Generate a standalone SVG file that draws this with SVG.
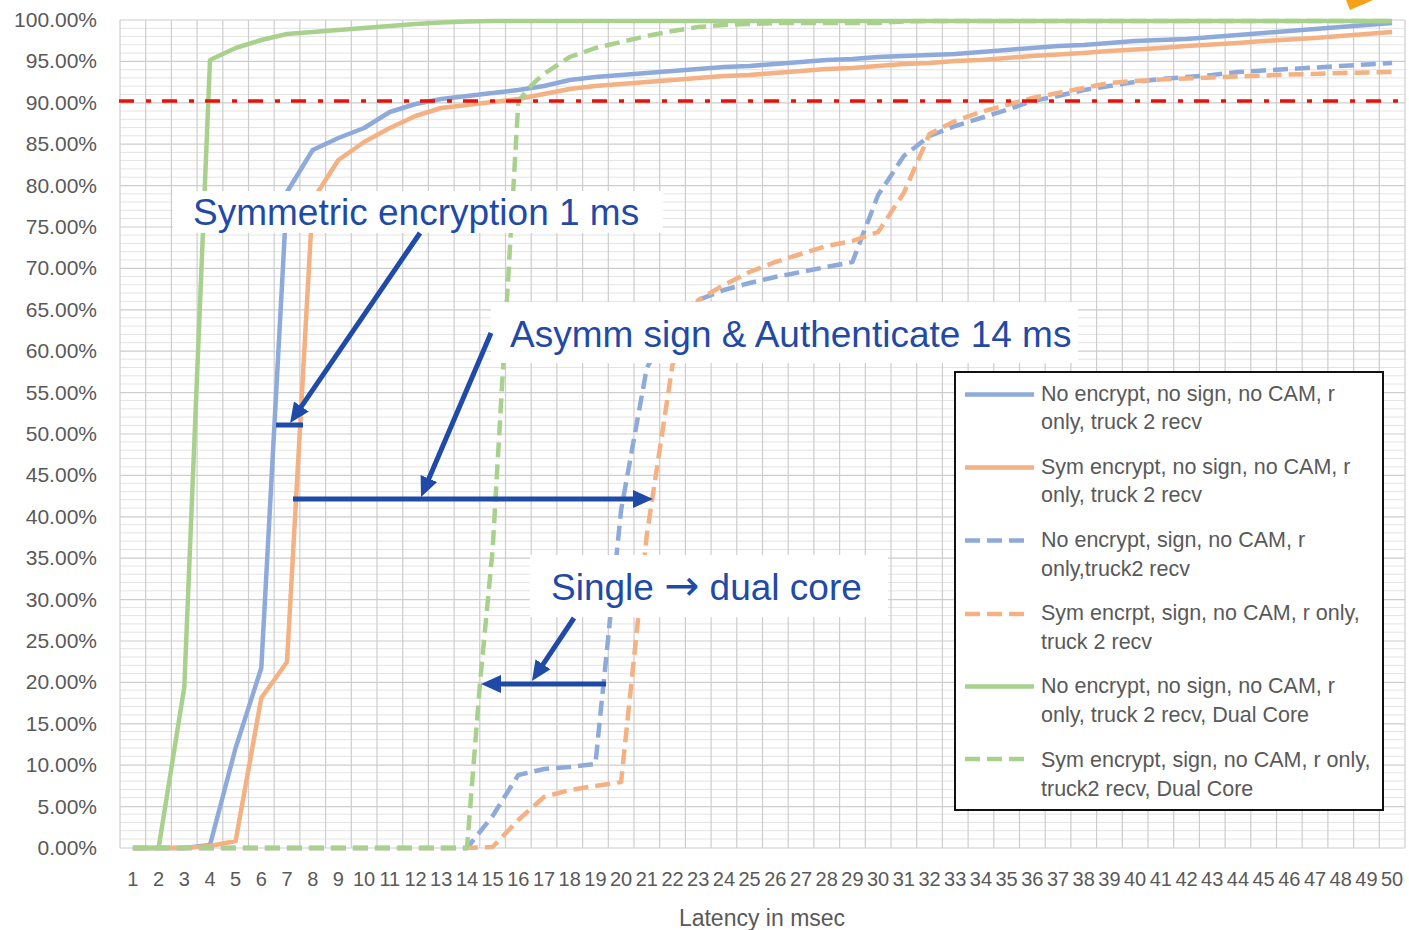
<svg xmlns="http://www.w3.org/2000/svg" width="1409" height="930" viewBox="0 0 1409 930">
  <defs>
    <style>
      .grid-major { stroke: #cdcdcd; stroke-width: 1.2; }
      .grid-minor { stroke: #e4e4e4; stroke-width: 1; }
      .axis-text { font-family: "Liberation Sans", Arial, sans-serif; font-size: 20px; fill: #595959; }
      .series { fill: none; stroke-width: 4.5; stroke-linejoin: round; }
      .dash { stroke-dasharray: 15 7; }
      .blue { stroke: #8eaadb; }
      .orange { stroke: #f4b183; }
      .green { stroke: #a9d18e; }
      .legend-text { font-family: "Liberation Sans", Arial, sans-serif; font-size: 21.5px; fill: #595959; }
      .note-box { fill: #ffffff; }
      .note-text { font-family: "Liberation Sans", Arial, "DejaVu Sans", sans-serif; font-size: 37px; fill: #1f4aa8; }
      .note-arrow { font-family: "DejaVu Sans", sans-serif; font-size: 42px; }
      .note-line { stroke: #1f4aa8; stroke-width: 5; fill: none; }
    </style>
    <marker id="head" markerUnits="userSpaceOnUse" markerWidth="22" markerHeight="22" viewBox="0 -11 22 22" refX="1" refY="0" orient="auto">
      <path d="M0,-9 L20,0 L0,9 z" fill="#1f4aa8"/>
    </marker>
  </defs>

  <rect x="0" y="0" width="1409" height="930" fill="#ffffff"/>

  <!-- plot grid: minor rows every 1 %, major rows every 5 %, one column per category -->
  <g id="grid">
    <g class="grid-minor">
      <path d="M120,28.3H1405M120,36.6H1405M120,44.8H1405M120,53.1H1405
               M120,69.7H1405M120,77.9H1405M120,86.2H1405M120,94.5H1405
               M120,111.0H1405M120,119.3H1405M120,127.6H1405M120,135.8H1405
               M120,152.4H1405M120,160.6H1405M120,168.9H1405M120,177.2H1405
               M120,193.8H1405M120,202.0H1405M120,210.3H1405M120,218.6H1405
               M120,235.1H1405M120,243.4H1405M120,251.7H1405M120,259.9H1405
               M120,276.5H1405M120,284.8H1405M120,293.0H1405M120,301.3H1405
               M120,317.8H1405M120,326.1H1405M120,334.4H1405M120,342.7H1405
               M120,359.2H1405M120,367.5H1405M120,375.8H1405M120,384.0H1405
               M120,400.6H1405M120,408.8H1405M120,417.1H1405M120,425.4H1405
               M120,441.9H1405M120,450.2H1405M120,458.5H1405M120,466.8H1405
               M120,483.3H1405M120,491.6H1405M120,499.8H1405M120,508.1H1405
               M120,524.7H1405M120,532.9H1405M120,541.2H1405M120,549.5H1405
               M120,566.0H1405M120,574.3H1405M120,582.6H1405M120,590.8H1405
               M120,607.4H1405M120,615.6H1405M120,623.9H1405M120,632.2H1405
               M120,648.7H1405M120,657.0H1405M120,665.3H1405M120,673.6H1405
               M120,690.1H1405M120,698.4H1405M120,706.6H1405M120,714.9H1405
               M120,731.5H1405M120,739.7H1405M120,748.0H1405M120,756.3H1405
               M120,772.8H1405M120,781.1H1405M120,789.4H1405M120,797.6H1405
               M120,814.2H1405M120,822.4H1405M120,830.7H1405M120,839.0H1405"/>
    </g>
    <g class="grid-major">
      <path d="M120,20H1405M120,61.4H1405M120,102.8H1405M120,144.2H1405M120,185.6H1405
               M120,227H1405M120,268.4H1405M120,309.8H1405M120,351.2H1405M120,392.6H1405
               M120,434H1405M120,475.4H1405M120,516.8H1405M120,558.2H1405M120,599.6H1405
               M120,641H1405M120,682.4H1405M120,723.8H1405M120,765.2H1405M120,806.6H1405
               M120,848H1405"/>
      <path d="M120,20V848M145.7,20V848M171.4,20V848M197.1,20V848M222.8,20V848
               M248.5,20V848M274.2,20V848M299.9,20V848M325.6,20V848M351.3,20V848
               M377,20V848M402.7,20V848M428.4,20V848M454.1,20V848M479.8,20V848
               M505.5,20V848M531.2,20V848M556.9,20V848M582.6,20V848M608.3,20V848
               M634,20V848M659.7,20V848M685.4,20V848M711.1,20V848M736.8,20V848
               M762.5,20V848M788.2,20V848M813.9,20V848M839.6,20V848M865.3,20V848
               M891,20V848M916.7,20V848M942.4,20V848M968.1,20V848M993.8,20V848
               M1019.5,20V848M1045.2,20V848M1070.9,20V848M1096.6,20V848M1122.3,20V848
               M1148,20V848M1173.7,20V848M1199.4,20V848M1225.1,20V848M1250.8,20V848
               M1276.5,20V848M1302.2,20V848M1327.9,20V848M1353.6,20V848M1379.3,20V848
               M1405,20V848"/>
    </g>
  </g>

  <!-- value axis labels -->
  <g id="y-axis" class="axis-text" text-anchor="end" style="font-size:21px">
    <text x="97" y="27">100.00%</text>
    <text x="97" y="68.4">95.00%</text>
    <text x="97" y="109.8">90.00%</text>
    <text x="97" y="151.2">85.00%</text>
    <text x="97" y="192.6">80.00%</text>
    <text x="97" y="234">75.00%</text>
    <text x="97" y="275.4">70.00%</text>
    <text x="97" y="316.8">65.00%</text>
    <text x="97" y="358.2">60.00%</text>
    <text x="97" y="399.6">55.00%</text>
    <text x="97" y="441">50.00%</text>
    <text x="97" y="482.4">45.00%</text>
    <text x="97" y="523.8">40.00%</text>
    <text x="97" y="565.2">35.00%</text>
    <text x="97" y="606.6">30.00%</text>
    <text x="97" y="648">25.00%</text>
    <text x="97" y="689.4">20.00%</text>
    <text x="97" y="730.8">15.00%</text>
    <text x="97" y="772.2">10.00%</text>
    <text x="97" y="813.6">5.00%</text>
    <text x="97" y="855">0.00%</text>
  </g>

  <!-- category axis labels -->
  <g id="x-axis" class="axis-text" text-anchor="middle">
    <text x="132.9" y="886">1</text><text x="158.6" y="886">2</text><text x="184.3" y="886">3</text>
    <text x="210" y="886">4</text><text x="235.6" y="886">5</text><text x="261.3" y="886">6</text>
    <text x="287" y="886">7</text><text x="312.7" y="886">8</text><text x="338.4" y="886">9</text>
    <text x="364.1" y="886">10</text><text x="389.8" y="886">11</text><text x="415.5" y="886">12</text>
    <text x="441.2" y="886">13</text><text x="467" y="886">14</text><text x="492.6" y="886">15</text>
    <text x="518.3" y="886">16</text><text x="544" y="886">17</text><text x="569.7" y="886">18</text>
    <text x="595.4" y="886">19</text><text x="621.1" y="886">20</text><text x="646.8" y="886">21</text>
    <text x="672.5" y="886">22</text><text x="698.2" y="886">23</text><text x="723.9" y="886">24</text>
    <text x="749.6" y="886">25</text><text x="775.3" y="886">26</text><text x="801" y="886">27</text>
    <text x="826.7" y="886">28</text><text x="852.4" y="886">29</text><text x="878.1" y="886">30</text>
    <text x="903.8" y="886">31</text><text x="929.5" y="886">32</text><text x="955.2" y="886">33</text>
    <text x="980.9" y="886">34</text><text x="1006.6" y="886">35</text><text x="1032.3" y="886">36</text>
    <text x="1058" y="886">37</text><text x="1083.7" y="886">38</text><text x="1109.4" y="886">39</text>
    <text x="1135.1" y="886">40</text><text x="1160.8" y="886">41</text><text x="1186.5" y="886">42</text>
    <text x="1212.2" y="886">43</text><text x="1237.9" y="886">44</text><text x="1263.6" y="886">45</text>
    <text x="1289.3" y="886">46</text><text x="1315" y="886">47</text><text x="1340.7" y="886">48</text>
    <text x="1366.4" y="886">49</text><text x="1392.1" y="886">50</text>
    <text x="762" y="926" style="font-size:23px">Latency in msec</text>
  </g>

  <!-- data series -->
  <g id="series">
    <polyline id="s-noenc" class="series blue" points="132.9,848 158.6,848 184.3,848 210,845 235.6,748 261.3,668 287,192 312.7,150 338.4,138 364.1,128 389.8,112 415.5,104 441.2,99 467,96 492.6,93 518.3,90 544,86 569.7,80 595.4,77 621.1,75 646.8,73 672.5,71 698.2,69 723.9,67 749.6,66 775.3,64 801,62 826.7,60 852.4,59 878.1,57 903.8,56 929.5,55 955.2,54 980.9,52 1006.6,50 1032.3,48 1058,46 1083.7,45 1109.4,43 1135.1,41 1160.8,40 1186.5,39 1212.2,37 1237.9,35 1263.6,33 1289.3,31 1315,29 1340.7,27 1366.4,25 1392.1,23"/>
    <polyline id="s-symenc" class="series orange" points="132.9,848 158.6,848 184.3,848 210,846 235.6,841 261.3,698 287,662 312.7,200 338.4,160 364.1,142 389.8,128 415.5,116 441.2,108 467,105 492.6,102 518.3,99 544,94 569.7,89 595.4,86 621.1,84 646.8,82 672.5,80 698.2,78 723.9,76 749.6,75 775.3,73 801,71 826.7,69 852.4,68 878.1,66 903.8,64 929.5,63 955.2,61 980.9,60 1006.6,58 1032.3,56 1058,54.5 1083.7,53 1109.4,51 1135.1,49.5 1160.8,48 1186.5,46 1212.2,44.5 1237.9,43 1263.6,41 1289.3,39.5 1315,38 1340.7,36 1366.4,34 1392.1,32"/>
    <polyline id="s-sign" class="series dash blue" points="132.9,848 467,848 492.6,816 518.3,775 544,769 569.7,767 595.4,764 621.1,510 646.8,368 672.5,320 698.2,300 723.9,290 749.6,283 775.3,277 801,272 826.7,267 852.4,262 878.1,195 903.8,156 929.5,136 955.2,126 980.9,118 1006.6,110 1032.3,101 1058,96 1083.7,90 1109.4,86 1135.1,82 1160.8,79 1186.5,77 1212.2,75 1237.9,72 1263.6,70.5 1289.3,69 1315,67.5 1340.7,66 1366.4,64.5 1392.1,63"/>
    <polyline id="s-symsign" class="series dash orange" points="132.9,848 467,848 492.6,847 518.3,820 544,797 569.7,790 595.4,786 621.1,782 646.8,535 672.5,365 698.2,300 723.9,285 749.6,272 775.3,262 801,254 826.7,246 852.4,241 878.1,232 903.8,193 929.5,134 955.2,121 980.9,112 1006.6,105 1032.3,98 1058,93 1083.7,88 1109.4,83 1135.1,81 1160.8,79.5 1186.5,78.5 1212.2,77.5 1237.9,76.5 1263.6,75.5 1289.3,74.5 1315,74 1340.7,73 1366.4,72.5 1392.1,72"/>
    <polyline id="s-dual" class="series green" points="132.9,848 158.6,848 184.3,687 210,60 235.6,48 261.3,40 287,34 312.7,32 338.4,30 364.1,28 389.8,26 415.5,24 441.2,22.5 467,21.5 492.6,21 1392.1,21"/>
    <polyline id="s-dualsign" class="series dash green" points="132.9,848 467,848 480,683 492.6,550 518.3,102 527,90 537,80 544,74 569.7,57 595.4,48 621.1,42 646.8,36 672.5,31 698.2,27 723.9,25 749.6,24 775.3,23 878.1,23 903.8,21.5 929.5,21 1392.1,21"/>
  </g>

  <!-- 90 % reference line -->
  <line id="p90" x1="119" y1="101" x2="1405" y2="101" stroke="#e8120c" stroke-width="3.5" stroke-dasharray="15 12 5 11"/>

  <!-- legend -->
  <g id="legend">
    <rect x="955" y="372" width="428" height="438" fill="#ffffff" stroke="#111111" stroke-width="2"/>
    <line class="series blue" x1="965" y1="394.5" x2="1034" y2="394.5"/>
    <line class="series orange" x1="965" y1="467.5" x2="1034" y2="467.5"/>
    <line class="series dash blue" x1="965" y1="540.5" x2="1030" y2="540.5"/>
    <line class="series dash orange" x1="965" y1="614" x2="1030" y2="614"/>
    <line class="series green" x1="965" y1="686.5" x2="1034" y2="686.5"/>
    <line class="series dash green" x1="965" y1="759" x2="1030" y2="759"/>
    <g class="legend-text">
      <text x="1041" y="401">No encrypt, no sign, no CAM, r</text>
      <text x="1041" y="429">only, truck 2 recv</text>
      <text x="1041" y="474">Sym encrypt, no sign, no CAM, r</text>
      <text x="1041" y="502">only, truck 2 recv</text>
      <text x="1041" y="547">No encrypt, sign, no CAM, r</text>
      <text x="1041" y="576">only,truck2 recv</text>
      <text x="1041" y="620">Sym encrpt, sign, no CAM, r only,</text>
      <text x="1041" y="649">truck 2 recv</text>
      <text x="1041" y="693">No encrypt, no sign, no CAM, r</text>
      <text x="1041" y="722">only, truck 2 recv, Dual Core</text>
      <text x="1041" y="767">Sym encrypt, sign, no CAM, r only,</text>
      <text x="1041" y="796">truck2 recv, Dual Core</text>
    </g>
  </g>

  <!-- callouts -->
  <g id="note-sym">
    <rect class="note-box" x="173" y="191" width="490" height="42"/>
    <text class="note-text" x="193" y="225">Symmetric encryption 1 ms</text>
    <line class="note-line" x1="420" y1="233" x2="300.8" y2="407.3" marker-end="url(#head)"/>
    <line class="note-line" x1="276" y1="425" x2="303" y2="425" stroke-width="6"/>
  </g>

  <g id="note-asym">
    <rect class="note-box" x="491" y="302" width="587" height="61"/>
    <text class="note-text" x="510" y="347">Asymm sign &amp; Authenticate 14 ms</text>
    <line class="note-line" x1="491" y1="333" x2="428.5" y2="479.5" marker-end="url(#head)"/>
    <line class="note-line" x1="293" y1="499" x2="634" y2="499" marker-end="url(#head)"/>
  </g>

  <g id="note-core">
    <rect class="note-box" x="530" y="555" width="358" height="62"/>
    <text class="note-text" x="551" y="600">Single <tspan class="note-arrow">→</tspan> dual core</text>
    <line class="note-line" x1="574" y1="618" x2="542.5" y2="665.2" marker-end="url(#head)"/>
    <line class="note-line" x1="606" y1="684" x2="500" y2="684" marker-end="url(#head)"/>
  </g>

  <!-- tip of a pointer entering from the top edge -->
  <polygon id="pointer-tip" points="1346,0 1373,0 1350,10" fill="#f7a11a"/>
</svg>
